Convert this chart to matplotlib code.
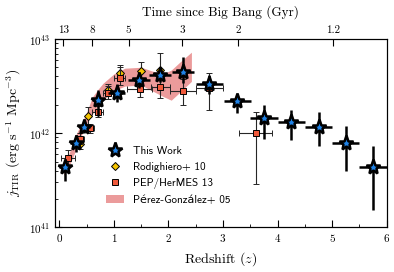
import numpy as np
import matplotlib
matplotlib.use("Agg")
import matplotlib.pyplot as plt
from matplotlib.patches import Patch
from matplotlib.lines import Line2D

plt.rcParams['font.family'] = 'serif'
plt.rcParams['font.serif'] = ['cmr10']
plt.rcParams['mathtext.fontset'] = 'cm'
plt.rcParams['axes.unicode_minus'] = False
plt.rcParams['axes.formatter.use_mathtext'] = True

# This Work (log10 j_TIR)
tw_z = [0.10, 0.30, 0.46, 0.70, 1.05, 1.46, 1.84, 2.26, 2.75, 3.26, 3.75, 4.25, 4.75, 5.25, 5.75]
tw_xerr = [0.10, 0.10, 0.10, 0.10, 0.15, 0.20, 0.20, 0.20, 0.25, 0.25, 0.25, 0.25, 0.25, 0.25, 0.25]
tw_log = [41.64, 41.90, 42.07, 42.35, 42.43, 42.56, 42.62, 42.65, 42.52, 42.34, 42.16, 42.12, 42.07, 41.90, 41.64]
tw_lo = [41.49, 41.80, 42.00, 42.18, 42.33, 42.48, 42.54, 42.53, 42.42, 42.21, 41.94, 41.93, 41.86, 41.60, 41.18]
tw_hi = [41.72, 41.98, 42.13, 42.46, 42.52, 42.64, 42.70, 42.81, 42.62, 42.42, 42.30, 42.25, 42.22, 42.08, 41.86]

# Rodighiero+ 10
ro_z = [0.38, 0.53, 0.90, 1.11, 1.50, 1.85]
ro_log = [41.89, 42.18, 42.46, 42.64, 42.66, 42.67]
ro_lo = [41.83, 42.10, 42.40, 42.58, 42.56, 42.50]
ro_hi = [41.95, 42.28, 42.52, 42.72, 42.76, 42.85]

# PEP/HerMES 13
pep_z = [0.16, 0.375, 0.56, 0.70, 0.90, 1.11, 1.47, 1.85, 2.26, 2.75, 3.60]
pep_xerr = [0.13, 0.08, 0.08, 0.10, 0.10, 0.10, 0.23, 0.17, 0.24, 0.25, 0.30]
pep_log = [41.74, 41.94, 42.05, 42.23, 42.43, 42.59, 42.47, 42.49, 42.45, 42.48, 42.00]
pep_lo = [41.66, 41.88, 42.00, 42.17, 42.36, 42.51, 42.38, 42.37, 42.30, 42.25, 41.46]
pep_hi = [41.82, 42.00, 42.10, 42.29, 42.50, 42.70, 42.56, 42.60, 42.58, 42.64, 42.23]

# Perez-Gonzalez+ 05 band
pg_z = [0.08, 0.2, 0.3, 0.4, 0.5, 0.6, 0.7, 0.8, 0.9, 1.0, 1.2, 1.5, 1.7, 1.9, 2.05, 2.2, 2.42]
pg_hi = [41.62, 41.82, 41.98, 42.10, 42.22, 42.38, 42.46, 42.53, 42.58, 42.63, 42.69, 42.70, 42.66, 42.63, 42.67, 42.75, 42.86]
pg_lo = [41.55, 41.68, 41.82, 41.97, 42.10, 42.20, 42.28, 42.35, 42.40, 42.45, 42.50, 42.51, 42.45, 42.39, 42.35, 42.43, 42.55]

# top axis: time since Big Bang
age_z = [0.07, 0.60, 1.27, 2.25, 3.27, 5.01]
age_labels = ['13', '8', '5', '3', '2', '1.2']


def asym(log, lo, hi):
    v = 10 ** np.array(log)
    return v, [v - 10 ** np.array(lo), 10 ** np.array(hi) - v]


fig = plt.figure(figsize=(3.94, 2.72), dpi=100)
ax = fig.add_axes([0.1396, 0.1643, 0.842, 0.6923])

ax.fill_between(pg_z, 10 ** np.array(pg_lo), 10 ** np.array(pg_hi),
                color='#e57a7a', alpha=0.75, lw=0, zorder=1)

v, e = asym(ro_log, ro_lo, ro_hi)
ax.errorbar(ro_z, v, yerr=e, fmt='D', ms=4.5, mfc='#f5c400', mec='k', mew=0.7,
            ecolor='0.15', elinewidth=0.8, capsize=2, zorder=3)

v, e = asym(pep_log, pep_lo, pep_hi)
ax.errorbar(pep_z, v, xerr=pep_xerr, yerr=e, fmt='s', ms=4.5, mfc='#f05a3c', mec='k',
            mew=0.7, ecolor='0.15', elinewidth=0.8, capsize=2, zorder=4)

v, e = asym(tw_log, tw_lo, tw_hi)
ax.errorbar(tw_z, v, xerr=tw_xerr, yerr=e, fmt='*', ms=11, mfc='#1f82e6', mec='k',
            mew=1.8, ecolor='k', elinewidth=1.8, capsize=0, zorder=5)

ax.set_yscale('log')
ax.set_xlim(-0.08, 6.0)
ax.set_ylim(1e41, 1e43)
ax.set_xticks([0, 1, 2, 3, 4, 5, 6])
ax.set_xticks(np.arange(0, 6.01, 0.5), minor=True)
ax.tick_params(which='both', direction='in', labelsize=8, top=False, right=False)
ax.tick_params(which='major', length=5)
ax.tick_params(which='minor', length=2.5)
ax.set_xlabel(r'Redshift $(z)$', fontsize=10)
ax.set_ylabel(r'$j_{\rm TIR}$ (erg s$^{-1}$ Mpc$^{-3}$)', fontsize=10)

ax2 = ax.twiny()
ax2.set_xlim(ax.get_xlim())
ax2.set_xticks(age_z)
ax2.set_xticklabels(age_labels)
ax2.tick_params(direction='in', labelsize=8, length=5, pad=3)
ax2.set_xlabel('Time since Big Bang (Gyr)', fontsize=9.5, labelpad=7)

handles = [
    Line2D([], [], ls='none', marker='*', ms=11, mfc='#1f82e6', mec='k', mew=1.8),
    Line2D([], [], ls='none', marker='D', ms=4.5, mfc='#f5c400', mec='k', mew=0.7),
    Line2D([], [], ls='none', marker='s', ms=4.5, mfc='#f05a3c', mec='k', mew=0.7),
    Patch(facecolor='#e57a7a', alpha=0.75, lw=0),
]
labels = ['This Work', 'Rodighiero+ 10', 'PEP/HerMES 13', 'Pérez-González+ 05']
ax.legend(handles, labels, loc='lower left', bbox_to_anchor=(0.125, 0.065), frameon=False,
          prop={'family': ['cmss10', 'DejaVu Sans'], 'size': 8}, handlelength=1.6,
          labelspacing=0.55)

fig.savefig('out.png', dpi=100)
